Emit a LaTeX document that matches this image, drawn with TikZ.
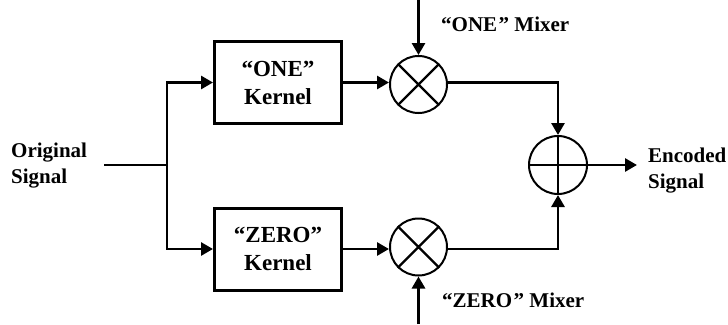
\documentclass[tikz,border=0pt]{standalone}
\usepackage{fontspec}
\setmainfont{Liberation Serif}
\usetikzlibrary{arrows.meta}
\tikzset{
  conn/.style={line width=2.8pt,-{Triangle[length=12pt,width=13pt]}},
  plainline/.style={line width=2.8pt},
  kbox/.style={draw,line width=3pt,minimum width=127pt,minimum height=82pt,inner sep=0pt,
    font=\bfseries\fontsize{23}{28}\selectfont,align=center},
  opcirc/.style={draw,circle,line width=2pt,minimum size=57pt,inner sep=0pt},
  crossline/.style={line width=2.2pt},
  lbl/.style={font=\bfseries\fontsize{21}{26}\selectfont,align=left,inner sep=0pt},
}
\begin{document}
\begin{tikzpicture}[x=1pt,y=-1pt]
\useasboundingbox (0,0) rectangle (728,324);

% labels
\node[lbl,anchor=north west] (orig) at (11,142.5) {Original\\Signal};
\node[lbl,anchor=north west] (enc) at (648,147.5) {Encoded\\Signal};
\node[lbl,anchor=base west] (onemix) at (441,31) {“ONE\kern1.5pt” Mixer};
\node[lbl,anchor=base west] (zeromix) at (442,307) {“ZERO\kern1.5pt” Mixer};

% kernels
\node[kbox] (k1) at (278,82.5) {“ONE”\\Kernel};
\node[kbox] (k0) at (278,249) {“ZERO”\\Kernel};

% mixers and summer
\node[opcirc] (m1) at (418.5,84.5) {};
\node[opcirc] (m0) at (418.5,247) {};
\node[opcirc,minimum size=58pt] (sum) at (558,165) {};

\draw[crossline] (m1.45) -- (m1.225) (m1.135) -- (m1.315);
\draw[crossline] (m0.45) -- (m0.225) (m0.135) -- (m0.315);
\draw[crossline] (sum.north) -- (sum.south) (sum.west) -- (sum.east);

% coordinates
\coordinate (inStart) at (104,165);
\coordinate (junc) at (167,165);
\coordinate (top1) at (418.5,0);
\coordinate (bot0) at (418.5,324);
\coordinate (outEnd) at (637,165);

% connectors
\draw[plainline] (inStart) -- (junc);
\draw[conn] (junc) |- (k1.west);
\draw[conn] (junc) |- (k0.west);
\draw[conn] (k1.east) -- (k1.east -| m1.west);
\draw[conn] (k0.east) -- (k0.east -| m0.west);
\draw[conn] (top1) -- (m1.north);
\draw[conn] (bot0) -- (m0.south);
\draw[conn] (m1.east |- k1.east) -| (sum.north);
\draw[conn] (m0.east |- k0.east) -| (sum.south);
\draw[conn] (sum.east) -- (outEnd);
\end{tikzpicture}
\end{document}
